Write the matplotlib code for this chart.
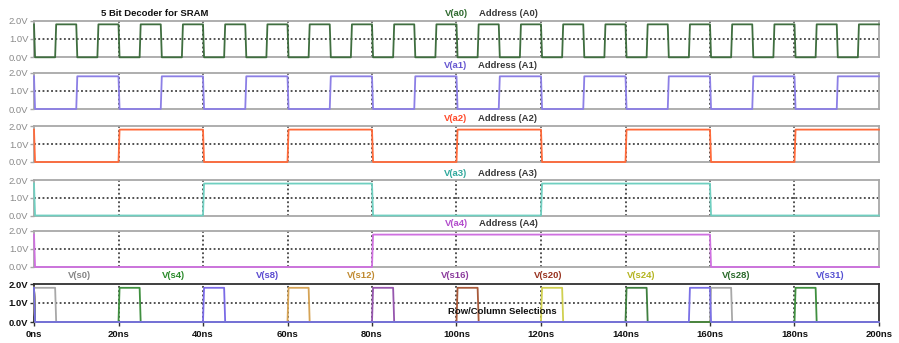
import matplotlib.pyplot as plt
import numpy as np

plt.rcParams['font.family'] = ['Liberation Sans', 'DejaVu Sans']

# time axis (ns)
t_end = 200
x_ticks = [0, 20, 40, 60, 80, 100, 120, 140, 160, 180, 200]
x_tick_labels = ['0ns', '20ns', '40ns', '60ns', '80ns', '100ns', '120ns',
                 '140ns', '160ns', '180ns', '200ns']
y_ticks = [0.0, 1.0, 2.0]
y_tick_labels = ['0.0V', '1.0V', '2.0V']
v_high = 1.8

# address bits: (start, end) of high intervals in ns
a0_high = [(5, 10), (15, 20), (25, 30), (35, 40), (45, 50), (55, 60), (65, 70),
           (75, 80), (85, 90), (95, 100), (105, 110), (115, 120), (125, 130),
           (135, 140), (145, 150), (155, 160), (165, 170), (175, 180),
           (185, 190), (195, 200)]
a1_high = [(10, 20), (30, 40), (50, 60), (70, 80), (90, 100), (110, 120),
           (130, 140), (150, 160), (170, 180), (190, 200)]
a2_high = [(20, 40), (60, 80), (100, 120), (140, 160), (180, 200)]
a3_high = [(40, 80), (120, 160)]
a4_high = [(80, 160)]

addr_names = ['V(a0)', 'V(a1)', 'V(a2)', 'V(a3)', 'V(a4)']
addr_titles = ['Address (A0)', 'Address (A1)', 'Address (A2)', 'Address (A3)', 'Address (A4)']
addr_highs = [a0_high, a1_high, a2_high, a3_high, a4_high]
addr_colors = ['#3f6e3f', '#8c7fe6', '#ff6a3a', '#6fcfc0', '#cf70e0']
addr_label_colors = ['#2f6a2f', '#6656d0', '#ff4a2a', '#2fa89c', '#b24ccc']

# decoder outputs
sel_names = ['V(s0)', 'V(s4)', 'V(s8)', 'V(s12)', 'V(s16)', 'V(s20)', 'V(s24)', 'V(s28)', 'V(s31)']
sel_highs = [[(0, 5), (160, 165)], [(20, 25), (180, 185)], [(40, 45)], [(60, 65)],
             [(80, 85)], [(100, 105)], [(120, 125)], [(140, 145)], [(155, 160)]]
sel_colors = ['#a8a8a8', '#3f8f3f', '#7a6ae6', '#d6a456', '#9656ae', '#a85a3a',
              '#d0d050', '#3f7f3f', '#7a70e6']
sel_label_colors = ['#858585', '#2a8a2a', '#5a4ad0', '#c08a30', '#8a3a9c', '#98321f',
                    '#b4b420', '#2a6a2a', '#5550d2']


def wave(highs, ramp=0.25):
    t, v = [0.0], [v_high]
    if highs[0][0] > 0:
        t.append(ramp); v.append(0.0)
    for a, b in highs:
        if a > 0:
            t += [a, a + ramp]; v += [0.0, v_high]
        if b < t_end:
            t += [b, b + ramp]; v += [v_high, 0.0]
        else:
            t.append(t_end); v.append(v_high)
    if t[-1] < t_end:
        t.append(t_end); v.append(0.0)
    return np.array(t), np.array(v)


W, H = 899, 343
left_px, right_px = 34, 879
rows_px = [(20.7, 57.3), (72.7, 109), (126, 162), (180, 215.5), (231, 267), (284, 322)]

fig = plt.figure(figsize=(W / 100, H / 100), dpi=100)


def make_axes(top, bottom, dark=False):
    ax = fig.add_axes([left_px / W, 1 - bottom / H, (right_px - left_px) / W, (bottom - top) / H])
    ax.set_xlim(0, t_end)
    ax.set_ylim(0, 2.0)
    edge = '#303030' if dark else '#a8a8a8'
    for s in ax.spines.values():
        s.set_color(edge)
        s.set_linewidth(1.3)
    ax.set_yticks(y_ticks)
    ax.set_yticklabels(y_tick_labels)
    ax.tick_params(axis='y', length=3, width=1, color=edge, pad=1,
                   labelsize=6.8, labelcolor='#111111' if dark else '#8a8a8a')
    for lab in ax.get_yticklabels():
        if dark:
            lab.set_fontweight('bold')
    ax.axhline(1.0, color='#222222', ls=(0, (1.2, 1.6)), lw=1.1, zorder=1)
    for xv in x_ticks[1:-1]:
        ax.axvline(xv, color='#222222', ls=(0, (1.2, 1.6)), lw=1.1, zorder=1)
    return ax


for i in range(5):
    ax = make_axes(*rows_px[i])
    t, v = wave(addr_highs[i])
    ax.plot(t, v, color=addr_colors[i], lw=1.3, zorder=3, clip_on=False)
    ax.set_xticks([])
    y_lab = rows_px[i][0] - 7
    fig.text(456 / W, 1 - y_lab / H, addr_names[i], color=addr_label_colors[i],
             fontsize=6.8, fontweight='bold', ha='center', va='center')
    fig.text(508 / W, 1 - y_lab / H, addr_titles[i], color='#3a3a3a',
             fontsize=6.8, fontweight='bold', ha='center', va='center')

fig.text(155 / W, 1 - 14 / H, '5 Bit Decoder for SRAM', color='#111111',
         fontsize=6.8, fontweight='bold', ha='center', va='center')

ax = make_axes(*rows_px[5], dark=True)
for i in range(len(sel_names)):
    t, v = wave(sel_highs[i])
    ax.plot(t, v, color=sel_colors[i], lw=1.3, zorder=3, clip_on=False)
ax.set_xticks(x_ticks)
ax.set_xticklabels(x_tick_labels)
ax.tick_params(axis='x', length=3, width=1, color='#303030', pad=2.5, labelsize=6.8,
               labelcolor='#111111')
for lab in ax.get_xticklabels():
    lab.set_fontweight('bold')

label_x_px = [80, 174, 268, 361, 455, 548, 641, 736, 830]
for i in range(len(sel_names)):
    fig.text(label_x_px[i] / W, 1 - 276 / H, sel_names[i], color=sel_label_colors[i],
             fontsize=6.8, fontweight='bold', ha='center', va='center')

fig.text(502 / W, 1 - 312 / H, 'Row/Column Selections', color='#111111',
         fontsize=6.8, fontweight='bold', ha='center', va='center')

fig.savefig('out.png', dpi=100)
